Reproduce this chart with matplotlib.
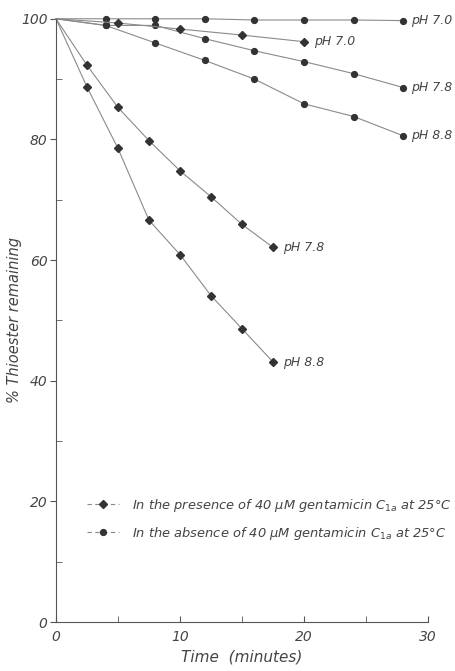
import matplotlib.pyplot as plt
from matplotlib.lines import Line2D
from matplotlib.ticker import MultipleLocator

# absence of gentamicin (circles)
t_abs = [0, 4, 8, 12, 16, 20, 24, 28]
abs_70 = [100, 100, 100, 100, 99.8, 99.8, 99.8, 99.7]
abs_78 = [100, 98.9, 98.9, 96.7, 94.7, 92.9, 90.9, 88.6]
abs_88 = [100, 98.9, 96.0, 93.1, 90.0, 85.9, 83.8, 80.6]

# presence of gentamicin (diamonds)
t_pres_70 = [0, 5, 10, 15, 20]
pres_70 = [100, 99.3, 98.3, 97.3, 96.2]
t_pres = [0, 2.5, 5, 7.5, 10, 12.5, 15, 17.5]
pres_78 = [100, 92.3, 85.3, 79.8, 74.8, 70.5, 65.9, 62.1]
pres_88 = [100, 88.7, 78.5, 66.6, 60.9, 54.1, 48.6, 43.1]

line_c = "#8a8a8a"
mark_c = "#333333"
text_c = "#444444"

fig = plt.figure(figsize=(4.55, 6.71), dpi=100)
ax = fig.add_axes([0.123, 0.073, 0.818, 0.899])

for y in [abs_70, abs_78, abs_88]:
    ax.plot(t_abs, y, color=line_c, lw=0.8, marker="o", ms=4.2,
            mfc=mark_c, mec=mark_c, markevery=list(range(1, len(t_abs))), clip_on=False)
ax.plot(t_pres_70, pres_70, color=line_c, lw=0.8, marker="D", ms=3.6,
        mfc=mark_c, mec=mark_c, markevery=list(range(1, len(t_pres_70))), clip_on=False)
for y in [pres_78, pres_88]:
    ax.plot(t_pres, y, color=line_c, lw=0.8, marker="D", ms=3.6,
            mfc=mark_c, mec=mark_c, markevery=list(range(1, len(t_pres))), clip_on=False)

lab = dict(fontsize=9, style="italic", color=text_c, va="center", clip_on=False)
ax.text(t_abs[-1] + 0.6, abs_70[-1], "pH 7.0", **lab)
ax.text(t_pres_70[-1] + 0.8, pres_70[-1], "pH 7.0", **lab)
ax.text(t_abs[-1] + 0.6, abs_78[-1], "pH 7.8", **lab)
ax.text(t_abs[-1] + 0.6, abs_88[-1], "pH 8.8", **lab)
ax.text(t_pres[-1] + 0.8, pres_78[-1], "pH 7.8", **lab)
ax.text(t_pres[-1] + 0.8, pres_88[-1], "pH 8.8", **lab)

ax.set_xlim(0, 30)
ax.set_ylim(0, 100)
ax.spines["top"].set_visible(False)
ax.spines["right"].set_visible(False)
for s in ["left", "bottom"]:
    ax.spines[s].set_color("#555555")
    ax.spines[s].set_linewidth(0.8)

ax.xaxis.set_major_locator(MultipleLocator(10))
ax.xaxis.set_minor_locator(MultipleLocator(5))
ax.yaxis.set_major_locator(MultipleLocator(20))
ax.yaxis.set_minor_locator(MultipleLocator(10))
ax.tick_params(axis="x", which="both", direction="in", length=4, color="#555555",
               labelsize=10, labelcolor=text_c, pad=6)
ax.tick_params(axis="y", which="major", direction="out", length=4, color="#555555",
               labelsize=10, labelcolor=text_c, pad=2)
ax.tick_params(axis="y", which="minor", direction="in", length=4, color="#555555")
for t in ax.get_xticklabels() + ax.get_yticklabels():
    t.set_style("italic")

ax.set_xlabel("Time  (minutes)", fontsize=11, style="italic", color=text_c, labelpad=4)
ax.set_ylabel("% Thioester remaining", fontsize=10.5, style="italic", color=text_c)
ax.yaxis.set_label_coords(-0.092, 0.5)

handles = [
    Line2D([], [], color=line_c, lw=0.8, ls=(0, (4, 3)), marker="D", ms=3.6,
           mfc=mark_c, mec=mark_c),
    Line2D([], [], color=line_c, lw=0.8, ls=(0, (4, 3)), marker="o", ms=4.2,
           mfc=mark_c, mec=mark_c),
]
labels = [
    r"In the presence of 40 $\mu$M gentamicin C$_{1a}$ at 25°C",
    r"In the absence of 40 $\mu$M gentamicin C$_{1a}$ at 25°C",
]
leg = ax.legend(handles, labels, loc="center left", bbox_to_anchor=(0.07, 0.17),
                frameon=False, fontsize=9.4, handlelength=2.4, handletextpad=1.0,
                labelspacing=0.85, borderaxespad=0)
for t in leg.get_texts():
    t.set_style("italic")
    t.set_color(text_c)

fig.savefig("out.png", dpi=100)
